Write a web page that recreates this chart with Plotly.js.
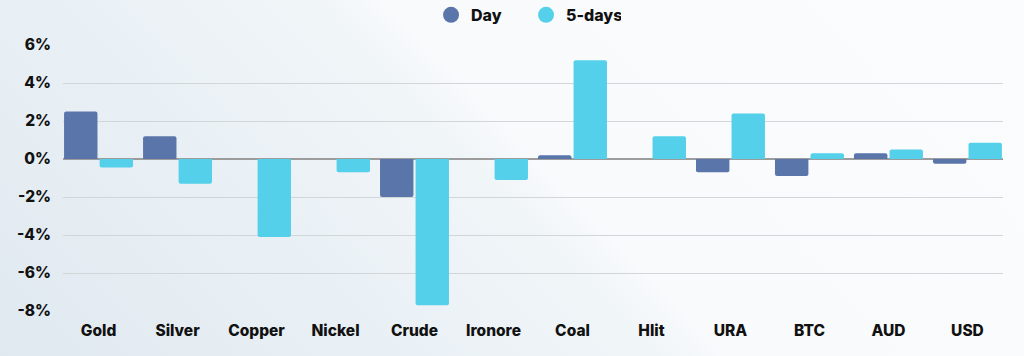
<!DOCTYPE html>
<html>
<head>
<meta charset="utf-8">
<script src="https://cdn.plot.ly/plotly-3.0.1.min.js"></script>
<style>
  html, body { margin: 0; padding: 0; width: 1024px; height: 356px; overflow: hidden; background: #fbfcfe; }
  #chart { width: 1024px; height: 356px;
    background: linear-gradient(46deg, #e0e9f0 0%, #e9f0f5 28%, #f0f5f8 48%, #f8fafc 53%, #fbfcfe 100%); }
</style>
</head>
<body>
<div id="chart"></div>
<script>
const categories = ["Gold", "Silver", "Copper", "Nickel", "Crude", "Ironore", "Coal", "Hlit", "URA", "BTC", "AUD", "USD"];
const dayValues = [2.5, 1.2, 0, 0, -2.0, 0, 0.2, 0, -0.7, -0.9, 0.3, -0.25];
const fiveDayValues = [-0.45, -1.3, -4.1, -0.7, -7.7, -1.1, 5.2, 1.2, 2.4, 0.3, 0.5, 0.85];
const yTickVals = [-8, -6, -4, -2, 0, 2, 4, 6];
const yTickText = ["-8%", "-6%", "-4%", "-2%", "0%", "2%", "4%", "6%"];

const DAY = "#5a75aa";
const FIVE = "#55d0ea";
const FONT = "Inter, 'Open Sans', sans-serif";

const traces = [
  { type: "bar", name: "Day", x: categories, y: dayValues, marker: { color: DAY, cornerradius: 2 }, showlegend: false, hoverinfo: "skip" },
  { type: "bar", name: "5-days", x: categories, y: fiveDayValues, marker: { color: FIVE, cornerradius: 2 }, showlegend: false, hoverinfo: "skip" },
  { type: "scatter", mode: "markers", name: "Day", x: [null], y: [null], marker: { color: DAY, size: 16, symbol: "circle" } },
  { type: "scatter", mode: "markers", name: "5-days", x: [null], y: [null], marker: { color: FIVE, size: 16, symbol: "circle" } }
];

const layout = {
  width: 1024, height: 356,
  paper_bgcolor: "rgba(0,0,0,0)",
  plot_bgcolor: "rgba(0,0,0,0)",
  margin: { l: 63, r: 21, t: 45, b: 45, autoexpand: false },
  barmode: "group",
  bargap: 0.1,
  bargroupgap: 0.06,
  font: { family: FONT, size: 15, color: "#111111", weight: 800 },
  showlegend: true,
  legend: {
    orientation: "h", x: 0.4926, xanchor: "center", y: 1.113, yanchor: "middle",
    font: { family: FONT, size: 16, color: "#111111", weight: 800 },
    itemsizing: "trace", itemwidth: 30, tracegroupgap: 0,
    entrywidth: 50, entrywidthmode: "pixels",
    bgcolor: "rgba(0,0,0,0)"
  },
  xaxis: {
    type: "category",
    range: [-0.45, 11.45],
    showgrid: false, zeroline: false, showline: false,
    ticks: "", ticklabelstandoff: 8,
    tickfont: { family: FONT, size: 15.5, color: "#111111", weight: 800 },
    fixedrange: true
  },
  yaxis: {
    range: [-8, 6],
    tickvals: yTickVals, ticktext: yTickText,
    showgrid: true, gridcolor: "#d3d6d9", gridwidth: 1,
    zeroline: true, zerolinecolor: "#9c9c9c", zerolinewidth: 1.5,
    showline: false, ticks: "", ticklabelstandoff: 11,
    tickfont: { family: FONT, size: 15.5, color: "#111111", weight: 800 },
    fixedrange: true
  }
};

Plotly.newPlot("chart", traces, layout, { displayModeBar: false, staticPlot: true });
</script>
</body>
</html>
